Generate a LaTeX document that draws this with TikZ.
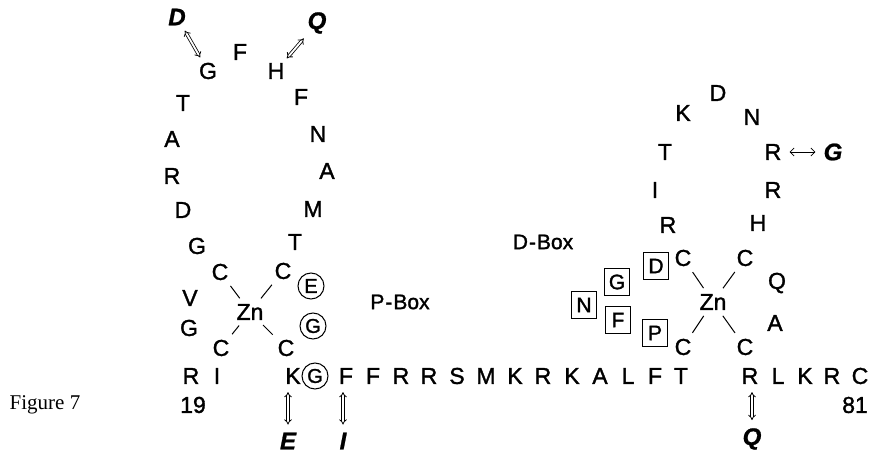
\documentclass[tikz,border=0pt]{standalone}
\usepackage{fontspec}
\setmainfont{Liberation Sans}[FakeBold=1.4]
\newfontfamily\itfont{Liberation Sans}[FakeBold=1.0]
\newfontfamily\serifft{Liberation Serif}
\usetikzlibrary{arrows.meta}
\begin{document}
\begin{tikzpicture}[x=1pt,y=-1pt,
  aa/.style={inner sep=0pt, font=\fontsize{23}{23}\selectfont},
  sub/.style={inner sep=0pt, font=\itfont\fontsize{24}{24}\selectfont\bfseries\itshape},
  circ/.style={circle, draw, line width=1pt, minimum size=26pt, inner sep=0pt, font=\fontsize{20}{20}\selectfont},
  sq/.style={rectangle, draw, line width=1pt, minimum width=25pt, minimum height=27pt, inner sep=0pt, font=\fontsize{21}{21}\selectfont},
  lbl/.style={inner sep=0pt, font=\fontsize{21}{21}\selectfont},
  bond/.style={line width=1pt, shorten >=7pt, shorten <=7pt},
  mut/.style={double, line width=0.8pt, double distance=1.8pt, {Implies}-{Implies}, shorten >=8pt, shorten <=8pt},
  dmut/.style={mut, shorten >=6pt, shorten <=6pt},
  swap/.style={line width=0.8pt, {Straight Barb[length=4pt]}-{Straight Barb[length=4pt]}, shorten >=8pt, shorten <=8pt}]
\useasboundingbox (0,0) rectangle (871,454);
\fill[white] (0,0) rectangle (871,454);

% ---------- left finger ----------
\node[sub] (dit) at (177,17) {D};
\node[aa] (lg1) at (208,71) {G};
\node[aa] (lf1) at (240,52) {F};
\node[aa] (lh1) at (276,71) {H};
\node[sub] (qit) at (317,23) {Q};
\node[aa] (lt1) at (183,103) {T};
\node[aa] (lf2) at (301,97) {F};
\node[aa] (la1) at (172,139) {A};
\node[aa] (ln1) at (318,134) {N};
\node[aa] (lr1) at (172,176) {R};
\node[aa] (la2) at (327,171) {A};
\node[aa] (ld1) at (183,210) {D};
\node[aa] (lm1) at (313,209) {M};
\node[aa] (lg2) at (197,246) {G};
\node[aa] (lt2) at (295,242) {T};
\node[aa] (lc1) at (220,272) {C};
\node[aa] (lc2) at (283,271) {C};
\node[circ] (le) at (311,286) {E};
\node[aa] (lv) at (190,298) {V};
\node[aa] (zn1) at (250,312) {Zn};
\node[aa] (lg3) at (189,328) {G};
\node[circ] (lgc) at (313,326) {G};
\node[aa] (lc3) at (221,348) {C};
\node[aa] (lc4) at (286,348) {C};
\draw[bond] (lc1) -- (zn1);
\draw[bond] (lc2) -- (zn1);
\draw[bond] (lc3) -- (zn1);
\draw[bond] (lc4) -- (zn1);
\draw[dmut] (dit) -- (lg1);
\draw[dmut] (qit) -- (lh1);

\node[lbl] (pbox) at (400,302) {P{\kern1pt}-{\kern1pt}Box};
\node[lbl] (dbox) at (543,242) {D{\kern1pt}-{\kern1pt}Box};

% ---------- sequence row ----------
\node[aa] (s1) at (191,376) {R};
\node[aa] (s2) at (217,376) {I};
\node[aa] (s3) at (293,376) {K};
\node[circ] (s4) at (315,376) {G};
\node[aa] (s5) at (346,376) {F};
\node[aa] (s6) at (373,376) {F};
\node[aa] (s7) at (401,376) {R};
\node[aa] (s8) at (429,376) {R};
\node[aa] (s9) at (457,376) {S};
\node[aa] (s10) at (486,376) {M};
\node[aa] (s11) at (515,376) {K};
\node[aa] (s12) at (543,376) {R};
\node[aa] (s13) at (572,376) {K};
\node[aa] (s14) at (600,376) {A};
\node[aa] (s15) at (628,376) {L};
\node[aa] (s16) at (655,376) {F};
\node[aa] (s17) at (681,376) {T};
\node[aa] (s18) at (750,376) {R};
\node[aa] (s19) at (778,376) {L};
\node[aa] (s20) at (805,376) {K};
\node[aa] (s21) at (832,376) {R};
\node[aa] (s22) at (860,376) {C};

\node[aa] (n19) at (193,405) {19};
\node[aa] (n81) at (855,405) {81};
\node[inner sep=0pt, font=\serifft\fontsize{21}{21}\selectfont] (fig) at (45,405) {Figure 7};

\node[sub] (eit) at (288,441) {E};
\node[sub] (iit) at (343,441) {I};
\node[sub] (qit2) at (752,439) {Q};
\draw[mut] (eit |- s3.south) -- (eit.north);
\draw[mut] (iit |- s5.south) -- (iit.north);
\draw[mut] (qit2 |- s18.south) -- (qit2.north);

% ---------- right finger ----------
\node[aa] (rd1) at (718,93) {D};
\node[aa] (rk1) at (683,113) {K};
\node[aa] (rn1) at (752,117) {N};
\node[aa] (rt1) at (665,152) {T};
\node[aa] (rr1) at (773,152) {R};
\node[sub] (git) at (833,152) {G};
\draw[swap] (rr1) -- (git);
\node[aa] (ri1) at (655,190) {I};
\node[aa] (rr2) at (773,190) {R};
\node[aa] (rr3) at (668,225) {R};
\node[aa] (rh1) at (758,223) {H};
\node[aa] (rc1) at (683,258) {C};
\node[aa] (rc2) at (745,258) {C};
\node[aa] (rq1) at (777,283) {Q};
\node[aa] (zn2) at (713,302) {Zn};
\node[aa] (ra1) at (775,323) {A};
\node[aa] (rc3) at (683,347) {C};
\node[aa] (rc4) at (745,347) {C};
\draw[bond] (rc1) -- (zn2);
\draw[bond] (rc2) -- (zn2);
\draw[bond] (rc3) -- (zn2);
\draw[bond] (rc4) -- (zn2);
\node[sq] (bd) at (656,266) {D};
\node[sq] (bg) at (617,282) {G};
\node[sq] (bn) at (584,305) {N};
\node[sq] (bf) at (618,320) {F};
\node[sq] (bp) at (655,333) {P};
\end{tikzpicture}
\end{document}
